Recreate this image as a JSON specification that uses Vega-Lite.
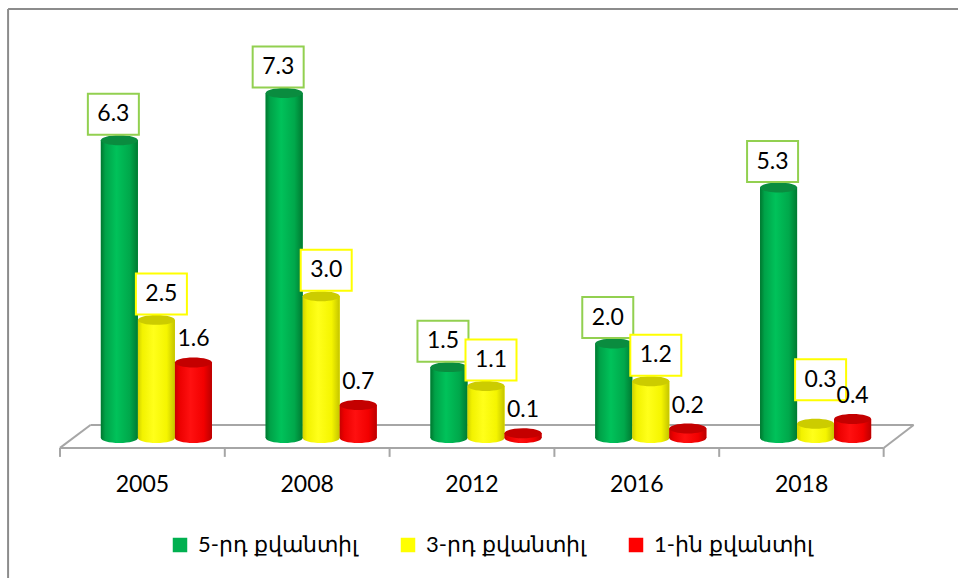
{
  "$schema": "https://vega.github.io/schema/vega-lite/v6.json",
  "width": 824,
  "height": 378,
  "autosize": {"type": "none"},
  "padding": {"left": 74, "top": 60, "right": 60, "bottom": 140},
  "background": "white",
  "config": {"view": {"stroke": null}, "font": "Lato"},
  "data": {
    "values": [
      {"year": "2005", "series": "5-րդ քվանտիլ", "value": 6.3},
      {"year": "2005", "series": "3-րդ քվանտիլ", "value": 2.5},
      {"year": "2005", "series": "1-ին քվանտիլ", "value": 1.6},
      {"year": "2008", "series": "5-րդ քվանտիլ", "value": 7.3},
      {"year": "2008", "series": "3-րդ քվանտիլ", "value": 3.0},
      {"year": "2008", "series": "1-ին քվանտիլ", "value": 0.7},
      {"year": "2012", "series": "5-րդ քվանտիլ", "value": 1.5},
      {"year": "2012", "series": "3-րդ քվանտիլ", "value": 1.1},
      {"year": "2012", "series": "1-ին քվանտիլ", "value": 0.1},
      {"year": "2016", "series": "5-րդ քվանտիլ", "value": 2.0},
      {"year": "2016", "series": "3-րդ քվանտիլ", "value": 1.2},
      {"year": "2016", "series": "1-ին քվանտիլ", "value": 0.2},
      {"year": "2018", "series": "5-րդ քվանտիլ", "value": 5.3},
      {"year": "2018", "series": "3-րդ քվանտիլ", "value": 0.3},
      {"year": "2018", "series": "1-ին քվանտիլ", "value": 0.4}
    ]
  },
  "resolve": {"scale": {"x": "independent"}, "axis": {"x": "independent"}},
  "layer": [
    {
      "data": {"values": [{}]},
      "layer": [
        {"mark": {"type": "rule", "color": "#8c8c8c", "strokeWidth": 2},
         "encoding": {"x": {"datum": -0.9, "type": "quantitative", "scale": {"domain": [-0.5, 4.5], "nice": false, "zero": false}, "axis": null}, "x2": {"datum": -0.9},
                      "y": {"datum": -3.2, "type": "quantitative", "scale": {"domain": [0, 8], "nice": false}, "axis": null}, "y2": {"datum": 9.08}}},
        {"mark": {"type": "rule", "color": "#8c8c8c", "strokeWidth": 2},
         "encoding": {"x": {"datum": -0.9, "type": "quantitative", "scale": {"domain": [-0.5, 4.5], "nice": false, "zero": false}, "axis": null}, "x2": {"datum": 5.2},
                      "y": {"datum": 9.08, "type": "quantitative", "scale": {"domain": [0, 8], "nice": false}, "axis": null}, "y2": {"datum": 9.08}}},
        {"mark": {"type": "rule", "color": "#a6a6a6", "strokeWidth": 2},
         "encoding": {"x": {"datum": -0.585, "type": "quantitative", "scale": {"domain": [-0.5, 4.5], "nice": false, "zero": false}, "axis": null}, "x2": {"datum": 4.413},
                      "y": {"datum": -0.21, "type": "quantitative", "scale": {"domain": [0, 8], "nice": false}, "axis": null}, "y2": {"datum": -0.21}}},
        {"mark": {"type": "rule", "color": "#a6a6a6", "strokeWidth": 2},
         "encoding": {"x": {"datum": -0.585, "type": "quantitative", "scale": {"domain": [-0.5, 4.5], "nice": false, "zero": false}, "axis": null}, "x2": {"datum": -0.4},
                      "y": {"datum": -0.21, "type": "quantitative", "scale": {"domain": [0, 8], "nice": false}, "axis": null}, "y2": {"datum": 0.275}}},
        {"mark": {"type": "rule", "color": "#a6a6a6", "strokeWidth": 2},
         "encoding": {"x": {"datum": -0.4, "type": "quantitative", "scale": {"domain": [-0.5, 4.5], "nice": false, "zero": false}, "axis": null}, "x2": {"datum": 4.595},
                      "y": {"datum": 0.275, "type": "quantitative", "scale": {"domain": [0, 8], "nice": false}, "axis": null}, "y2": {"datum": 0.275}}},
        {"mark": {"type": "rule", "color": "#a6a6a6", "strokeWidth": 2},
         "encoding": {"x": {"datum": 4.413, "type": "quantitative", "scale": {"domain": [-0.5, 4.5], "nice": false, "zero": false}, "axis": null}, "x2": {"datum": 4.595},
                      "y": {"datum": -0.21, "type": "quantitative", "scale": {"domain": [0, 8], "nice": false}, "axis": null}, "y2": {"datum": 0.275}}},
        {"mark": {"type": "rule", "color": "#a6a6a6", "strokeWidth": 2},
         "encoding": {"x": {"datum": -0.585, "type": "quantitative", "scale": {"domain": [-0.5, 4.5], "nice": false, "zero": false}, "axis": null},
                      "y": {"datum": -0.21, "type": "quantitative", "scale": {"domain": [0, 8], "nice": false}, "axis": null}, "y2": {"datum": -0.40}}},
        {"mark": {"type": "rule", "color": "#a6a6a6", "strokeWidth": 2},
         "encoding": {"x": {"datum": 0.415, "type": "quantitative", "scale": {"domain": [-0.5, 4.5], "nice": false, "zero": false}, "axis": null},
                      "y": {"datum": -0.21, "type": "quantitative", "scale": {"domain": [0, 8], "nice": false}, "axis": null}, "y2": {"datum": -0.40}}},
        {"mark": {"type": "rule", "color": "#a6a6a6", "strokeWidth": 2},
         "encoding": {"x": {"datum": 1.415, "type": "quantitative", "scale": {"domain": [-0.5, 4.5], "nice": false, "zero": false}, "axis": null},
                      "y": {"datum": -0.21, "type": "quantitative", "scale": {"domain": [0, 8], "nice": false}, "axis": null}, "y2": {"datum": -0.40}}},
        {"mark": {"type": "rule", "color": "#a6a6a6", "strokeWidth": 2},
         "encoding": {"x": {"datum": 2.415, "type": "quantitative", "scale": {"domain": [-0.5, 4.5], "nice": false, "zero": false}, "axis": null},
                      "y": {"datum": -0.21, "type": "quantitative", "scale": {"domain": [0, 8], "nice": false}, "axis": null}, "y2": {"datum": -0.40}}},
        {"mark": {"type": "rule", "color": "#a6a6a6", "strokeWidth": 2},
         "encoding": {"x": {"datum": 3.415, "type": "quantitative", "scale": {"domain": [-0.5, 4.5], "nice": false, "zero": false}, "axis": null},
                      "y": {"datum": -0.21, "type": "quantitative", "scale": {"domain": [0, 8], "nice": false}, "axis": null}, "y2": {"datum": -0.40}}},
        {"mark": {"type": "rule", "color": "#a6a6a6", "strokeWidth": 2},
         "encoding": {"x": {"datum": 4.413, "type": "quantitative", "scale": {"domain": [-0.5, 4.5], "nice": false, "zero": false}, "axis": null},
                      "y": {"datum": -0.21, "type": "quantitative", "scale": {"domain": [0, 8], "nice": false}, "axis": null}, "y2": {"datum": -0.40}}}
      ]
    },
    {
      "encoding": {
        "x": {"field": "year", "type": "nominal", "sort": null,
              "scale": {"paddingInner": 0.326, "paddingOuter": 0.163},
              "axis": {"title": null, "domain": false, "grid": false, "ticks": true, "tickOpacity": 0, "tickSize": 9,
                       "offset": 10, "labelAngle": 0, "labelOffset": -14,
                       "labelFont": "Lato", "labelFontSize": 23, "labelColor": "#000000", "labelPadding": 16}},
        "xOffset": {"field": "series", "type": "nominal", "sort": ["5-րդ քվանտիլ", "3-րդ քվանտիլ", "1-ին քվանտիլ"],
                    "scale": {"paddingInner": 0, "paddingOuter": 0}},
        "y": {"field": "value", "type": "quantitative", "scale": {"domain": [0, 8], "nice": false}, "axis": null}
      },
      "layer": [
        {
          "mark": {"type": "bar"},
          "encoding": {
            "color": {"field": "series", "type": "nominal", "sort": ["5-րդ քվանտիլ", "3-րդ քվանտիլ", "1-ին քվանտիլ"],
                      "scale": {"domain": ["5-րդ քվանտիլ", "3-րդ քվանտիլ", "1-ին քվանտիլ"], "range": ["#00b050", "#ffff00", "#ff0000"]},
                      "legend": {"orient": "none", "legendX": 95, "legendY": 474, "direction": "horizontal", "title": null,
                                 "symbolType": "square", "symbolSize": 210, "symbolStrokeWidth": 0, "symbolOffset": 0,
                                 "labelFont": "Lato", "labelFontSize": 22, "labelColor": "#000000", "labelLimit": 0,
                                 "labelOffset": 7, "columnPadding": 39}}
          }
        },
        {
          "mark": {"type": "bar"},
          "encoding": {
            "fill": {
              "condition": [
                {"test": "datum.series === '5-րդ քվանտիլ'", "value": {"gradient": "linear", "x1": 0, "y1": 0, "x2": 1, "y2": 0,
                  "stops": [{"offset": 0, "color": "#00772f"}, {"offset": 0.12, "color": "#00a248"}, {"offset": 0.42, "color": "#00c25a"}, {"offset": 0.78, "color": "#00a84b"}, {"offset": 1, "color": "#007a31"}]}},
                {"test": "datum.series === '3-րդ քվանտիլ'", "value": {"gradient": "linear", "x1": 0, "y1": 0, "x2": 1, "y2": 0,
                  "stops": [{"offset": 0, "color": "#d2d200"}, {"offset": 0.12, "color": "#f2f200"}, {"offset": 0.42, "color": "#ffff1a"}, {"offset": 0.78, "color": "#f5f500"}, {"offset": 1, "color": "#c4c400"}]}}
              ],
              "value": {"gradient": "linear", "x1": 0, "y1": 0, "x2": 1, "y2": 0,
                "stops": [{"offset": 0, "color": "#c80000"}, {"offset": 0.12, "color": "#ec0000"}, {"offset": 0.42, "color": "#ff1010"}, {"offset": 0.78, "color": "#f20000"}, {"offset": 1, "color": "#bb0000"}]}
            }
          }
        },
        {
          "mark": {"type": "point", "shape": "M-1,0A1,0.27,0,1,1,1,0A1,0.27,0,1,1,-1,0Z", "size": 1369, "filled": true, "opacity": 1, "strokeWidth": 0},
          "encoding": {
            "y": {"datum": 0, "type": "quantitative", "scale": {"domain": [0, 8], "nice": false}, "axis": null},
            "fill": {
              "condition": [
                {"test": "datum.series === '5-րդ քվանտիլ'", "value": {"gradient": "linear", "x1": 0, "y1": 0, "x2": 1, "y2": 0,
                  "stops": [{"offset": 0, "color": "#00772f"}, {"offset": 0.12, "color": "#00a248"}, {"offset": 0.42, "color": "#00c25a"}, {"offset": 0.78, "color": "#00a84b"}, {"offset": 1, "color": "#007a31"}]}},
                {"test": "datum.series === '3-րդ քվանտիլ'", "value": {"gradient": "linear", "x1": 0, "y1": 0, "x2": 1, "y2": 0,
                  "stops": [{"offset": 0, "color": "#d2d200"}, {"offset": 0.12, "color": "#f2f200"}, {"offset": 0.42, "color": "#ffff1a"}, {"offset": 0.78, "color": "#f5f500"}, {"offset": 1, "color": "#c4c400"}]}}
              ],
              "value": {"gradient": "linear", "x1": 0, "y1": 0, "x2": 1, "y2": 0,
                "stops": [{"offset": 0, "color": "#c80000"}, {"offset": 0.12, "color": "#ec0000"}, {"offset": 0.42, "color": "#ff1010"}, {"offset": 0.78, "color": "#f20000"}, {"offset": 1, "color": "#bb0000"}]}
            }
          }
        },
        {
          "mark": {"type": "point", "shape": "M-1,0A1,0.27,0,1,1,1,0A1,0.27,0,1,1,-1,0Z", "size": 1369, "filled": true, "opacity": 1, "strokeWidth": 0},
          "encoding": {
            "fill": {
              "condition": [
                {"test": "datum.series === '5-րդ քվանտիլ'", "value": "#0a8c3f"},
                {"test": "datum.series === '3-րդ քվանտիլ'", "value": "#cccc00"}
              ],
              "value": "#c40000"
            }
          }
        },
        {
          "transform": [{"filter": "datum.series === '5-րդ քվանտիլ'"}],
          "mark": {"type": "point", "shape": "M-1.537,-2.268H0.951V-0.268H-1.537Z", "size": 1681, "filled": true, "opacity": 1,
                   "fill": "#ffffff", "stroke": "#92d050", "strokeWidth": 2}
        },
        {
          "transform": [{"filter": "datum.series === '3-րդ քվանտիլ' && datum.value >= 0.5"}],
          "mark": {"type": "point", "shape": "M-1.0,-2.268H1.488V-0.268H-1.0Z", "size": 1681, "filled": true, "opacity": 1,
                   "fill": "#ffffff", "stroke": "#ffff00", "strokeWidth": 2}
        },
        {
          "transform": [{"filter": "datum.series === '3-րդ քվանտիլ' && datum.value < 0.5"}],
          "mark": {"type": "point", "shape": "M-1.0,-3.146H1.488V-1.146H-1.0Z", "size": 1681, "filled": true, "opacity": 1,
                   "fill": "#ffffff", "stroke": "#ffff00", "strokeWidth": 2}
        },
        {
          "transform": [{"filter": "datum.series === '5-րդ քվանտիլ'"}],
          "mark": {"type": "text", "font": "Lato", "fontSize": 23, "color": "#000000", "align": "center", "baseline": "middle", "dx": -6, "dy": -26},
          "encoding": {"text": {"field": "value", "type": "quantitative", "format": ".1f"}}
        },
        {
          "transform": [{"filter": "datum.series === '3-րդ քվանտիլ' && datum.value >= 0.5"}],
          "mark": {"type": "text", "font": "Lato", "fontSize": 23, "color": "#000000", "align": "center", "baseline": "middle", "dx": 5, "dy": -26},
          "encoding": {"text": {"field": "value", "type": "quantitative", "format": ".1f"}}
        },
        {
          "transform": [{"filter": "datum.series === '3-րդ քվանտիլ' && datum.value < 0.5"}],
          "mark": {"type": "text", "font": "Lato", "fontSize": 23, "color": "#000000", "align": "center", "baseline": "middle", "dx": 5, "dy": -44},
          "encoding": {"text": {"field": "value", "type": "quantitative", "format": ".1f"}}
        },
        {
          "transform": [{"filter": "datum.series === '1-ին քվանտիլ'"}],
          "mark": {"type": "text", "font": "Lato", "fontSize": 23, "color": "#000000", "align": "center", "baseline": "middle", "dx": 0, "dy": -23},
          "encoding": {"text": {"field": "value", "type": "quantitative", "format": ".1f"}}
        }
      ]
    }
  ]
}
